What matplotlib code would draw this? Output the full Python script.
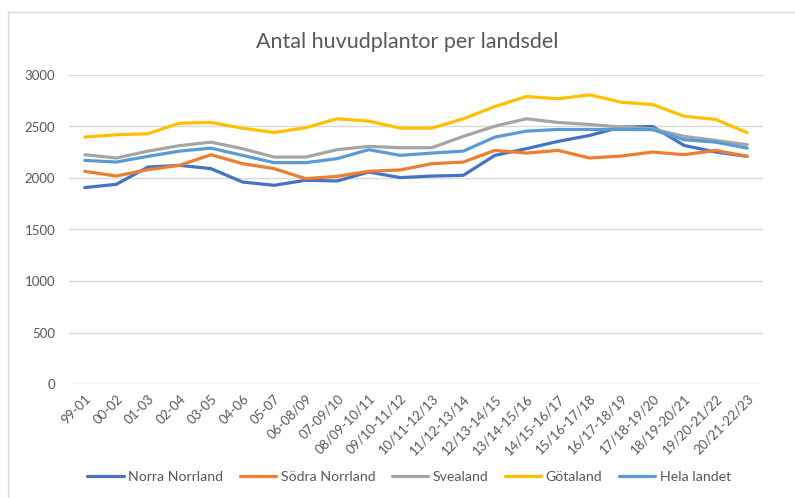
import matplotlib.pyplot as plt
from matplotlib.lines import Line2D

periods = ['99-01', '00-02', '01-03', '02-04', '03-05', '04-06', '05-07', '06-08/09',
           '07-09/10', '08/09-10/11', '09/10-11/12', '10/11-12/13', '11/12-13/14',
           '12/13-14/15', '13/14-15/16', '14/15-16/17', '15/16-17/18', '16/17-18/19',
           '17/18-19/20', '18/19-20/21', '19/20-21/22', '20/21-22/23']

norra_norrland = [1907, 1939, 2106, 2123, 2091, 1961, 1929, 1978, 1971, 2058, 2004,
                  2019, 2026, 2220, 2285, 2355, 2413, 2494, 2500, 2316, 2252, 2210]
sodra_norrland = [2065, 2019, 2081, 2123, 2226, 2139, 2091, 1994, 2016, 2065, 2078,
                  2139, 2155, 2268, 2242, 2268, 2194, 2213, 2252, 2226, 2268, 2210]
svealand = [2226, 2194, 2261, 2314, 2348, 2285, 2203, 2203, 2275, 2307, 2294,
            2294, 2404, 2503, 2575, 2539, 2520, 2494, 2478, 2404, 2365, 2323]
gotaland = [2397, 2420, 2430, 2532, 2539, 2484, 2442, 2488, 2575, 2552, 2484,
            2484, 2575, 2694, 2791, 2769, 2807, 2736, 2713, 2600, 2568, 2440]
hela_landet = [2171, 2155, 2210, 2261, 2290, 2220, 2149, 2149, 2188, 2275, 2220,
               2242, 2261, 2397, 2455, 2471, 2471, 2471, 2469, 2372, 2348, 2290]

series = [
    ('Norra Norrland', norra_norrland, '#4472C4'),
    ('Södra Norrland', sodra_norrland, '#ED7D31'),
    ('Svealand', svealand, '#A5A5A5'),
    ('Götaland', gotaland, '#FFC000'),
    ('Hela landet', hela_landet, '#5B9BD5'),
]

plt.rcParams['font.family'] = ['Lato', 'DejaVu Sans']
W, H = 795, 498
fig = plt.figure(figsize=(W / 100, H / 100), dpi=100)
ax = fig.add_axes([69 / W, (H - 384) / H, (763 - 69) / W, (384 - 75) / H])

x = list(range(len(periods)))
for name, vals, color in series:
    ax.plot(x, vals, color=color, lw=2.3, label=name, solid_capstyle='round')

ax.set_xlim(-0.5, len(periods) - 0.5)
ax.set_ylim(0, 3000)
ax.set_yticks(range(0, 3001, 500))
ax.grid(axis='y', color='#D9D9D9', lw=1)
ax.set_axisbelow(True)
for s in ax.spines.values():
    s.set_visible(False)
ax.tick_params(axis='both', length=0, colors='#595959', labelsize=9.5)
ax.tick_params(axis='y', pad=10)
ax.set_xticks(x)
ax.set_xticklabels(periods, rotation=45, ha='right', rotation_mode='anchor')
ax.tick_params(axis='x', pad=6)

fig.text(407 / W, 1 - 42 / H, 'Antal huvudplantor per landsdel', ha='center', va='center',
         fontsize=15.5, color='#595959')

# chart area border
fig.add_artist(Line2D([8 / W, 8 / W], [0, 1 - 12 / H], color='#D9D9D9', lw=1))
fig.add_artist(Line2D([8 / W, 1], [1 - 12 / H, 1 - 12 / H], color='#D9D9D9', lw=1))

handles, labels = ax.get_legend_handles_labels()
fig.legend(handles, labels, loc='center', bbox_to_anchor=(409 / W, 1 - 477 / H), ncol=5,
           frameon=False, fontsize=10.2, handlelength=2.6, handletextpad=0.3,
           columnspacing=1.15, labelcolor='#595959')

fig.savefig('out.png', dpi=100)
